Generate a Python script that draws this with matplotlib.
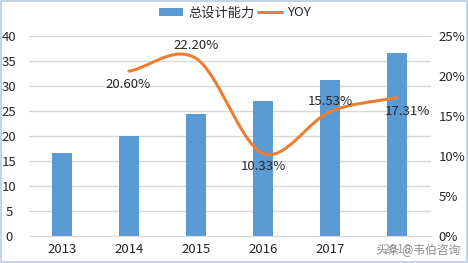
"""Total design capacity bars with smoothed YOY line -> out.png."""

import matplotlib

matplotlib.use("Agg")
import matplotlib.pyplot as plt
import numpy as np
from matplotlib.patches import Rectangle

plt.rcParams["font.family"] = ["Noto Sans CJK SC", "DejaVu Sans"]

years = ["2013", "2014", "2015", "2016", "2017", "2018"]
capacity = [16.6, 20.0, 24.4, 27.0, 31.2, 36.6]
yoy_years = ["2014", "2015", "2016", "2017", "2018"]
yoy = [20.60, 22.20, 10.33, 15.53, 17.31]

BLUE = "#5B9BD5"
ORANGE = "#ED7D31"
TEXT = "#262626"


def smooth(xs, ys, n=40):
    # Catmull-Rom through the points, like Excel's smoothed line
    xs = np.asarray(xs, float)
    ys = np.asarray(ys, float)
    px = np.concatenate([[2 * xs[0] - xs[1]], xs, [2 * xs[-1] - xs[-2]]])
    py = np.concatenate([[2 * ys[0] - ys[1]], ys, [2 * ys[-1] - ys[-2]]])
    outx, outy = [], []
    t = np.linspace(0, 1, n)
    for i in range(1, len(px) - 2):
        for p, out in ((px, outx), (py, outy)):
            p0, p1, p2, p3 = p[i - 1], p[i], p[i + 1], p[i + 2]
            out.extend(0.5 * (2 * p1 + (-p0 + p2) * t
                              + (2 * p0 - 5 * p1 + 4 * p2 - p3) * t ** 2
                              + (-p0 + 3 * p1 - 3 * p2 + p3) * t ** 3))
    return np.array(outx), np.array(outy)


fig = plt.figure(figsize=(4.68, 2.63), dpi=100)
ax = fig.add_axes([28.5 / 468, 27 / 263, 402 / 468, 200 / 263])
ax2 = ax.twinx()

x = np.arange(len(years))
ax.bar(x, capacity, width=0.3, color=BLUE, zorder=2, label="总设计能力")
ax.set_xlim(-0.5, len(years) - 0.5)
ax.set_ylim(0, 40)
ax.set_yticks(range(0, 41, 5))
ax.set_xticks(x)
ax.set_xticklabels(years)
ax.yaxis.grid(True, color="#D9D9D9", linewidth=1, zorder=0)
ax.set_axisbelow(True)
for a in (ax, ax2):
    for s in a.spines.values():
        s.set_visible(False)
    a.tick_params(length=0, labelsize=9.5, colors=TEXT)
ax.spines["bottom"].set_visible(True)
ax.spines["bottom"].set_color("#D9D9D9")
ax.tick_params(axis="y", pad=14)
ax.tick_params(axis="x", pad=5)
for lab in ax.get_yticklabels():
    lab.set_horizontalalignment("center")

xl = np.array([years.index(y) for y in yoy_years])
sx, sy = smooth(xl, yoy)
ax2.plot(sx, sy, color=ORANGE, linewidth=2.2, solid_capstyle="round", label="YOY")
ax2.set_ylim(0, 25)
ax2.set_yticks(range(0, 26, 5))
ax2.set_yticklabels([f"{v}%" for v in range(0, 26, 5)])
ax2.tick_params(axis="y", pad=6)

offsets = [(-0.02, -1.7), (0.0, 1.6), (0.0, -1.7), (0.0, 1.3), (0.15, -1.7)]
for xi, v, (dx, dy) in zip(xl, yoy, offsets):
    ax2.text(xi + dx, v + dy, f"{v:.2f}%", ha="center", va="center",
             fontsize=9.5, color=TEXT)

h1, l1 = ax.get_legend_handles_labels()
h2, l2 = ax2.get_legend_handles_labels()
fig.legend(h1 + h2, l1 + l2, loc="center", bbox_to_anchor=(235 / 468, 1 - 13 / 263),
           ncol=2, frameon=False, fontsize=9.5, handlelength=1.8, handleheight=0.6,
           columnspacing=0.3, handletextpad=0.4, labelcolor=TEXT)

fig.text(460 / 468, 1 - 250 / 263, "头条 @韦伯咨询", ha="right", va="center",
         fontsize=8.5, color="#8C8C8C",
         bbox=dict(facecolor="white", edgecolor="none", alpha=0.6, pad=0.5))
fig.patches.append(Rectangle((0.002, 0.004), 0.995, 0.992, transform=fig.transFigure,
                             fill=False, edgecolor="#B8CCE4", linewidth=1.2))

fig.savefig("out.png", dpi=100)
plt.close(fig)
